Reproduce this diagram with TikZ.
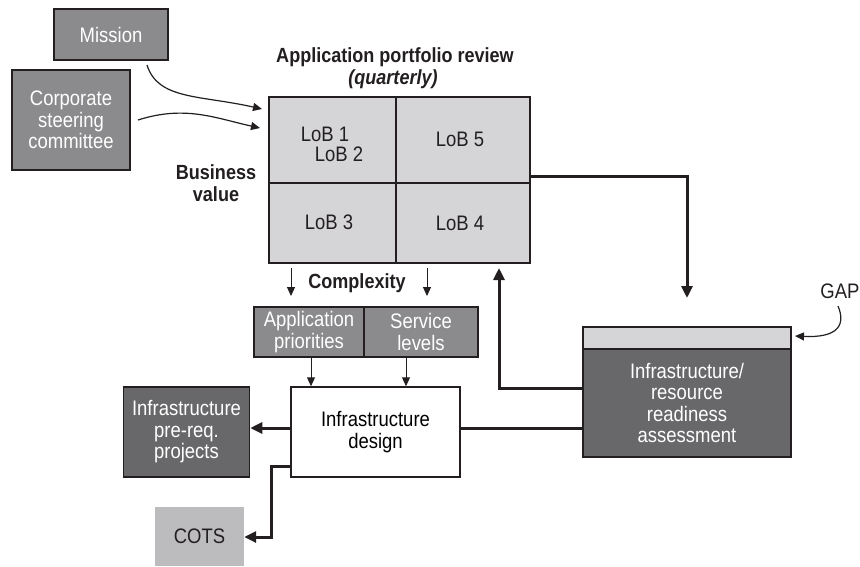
\documentclass[tikz,border=0pt]{standalone}
\usepackage{fontspec}
\setmainfont{Liberation Sans}[FakeStretch=0.88]
\usetikzlibrary{arrows.meta}
\definecolor{midgray}{HTML}{8B8B8D}
\definecolor{darkgray}{HTML}{68686A}
\definecolor{lightgray}{HTML}{D5D5D7}
\definecolor{cotsgray}{HTML}{BCBCBE}
\definecolor{ink}{HTML}{231F20}
\tikzset{
  box/.style={draw=ink, line width=1.5pt, inner sep=0pt, align=center},
  graybox/.style={box, fill=midgray, text=white},
  darkbox/.style={box, fill=darkgray, text=white},
  lbl/.style={inner sep=0pt, align=center, text=ink},
  boldlbl/.style={lbl, font=\fontsize{20.5}{21.5}\selectfont\bfseries},
  thin/.style={draw=ink, line width=1pt, -{Triangle[length=9pt,width=8pt]}},
  heavy/.style={draw=ink, line width=3pt},
  heavyarrow/.style={heavy, -{Triangle[length=12pt,width=11pt]}},
}
\begin{document}
\begin{tikzpicture}[x=1pt, y=-1pt, font=\fontsize{21}{21.5}\selectfont]
\useasboundingbox (0,0) rectangle (860,566);

% input boxes
\node[graybox, minimum width=114pt, minimum height=51pt] (mission) at (111,34.5) {Mission};
\node[graybox, minimum width=118pt, minimum height=100pt] (corp) at (71,120) {Corporate\\steering\\committee};

% portfolio grid
\node[boldlbl] (title) at (395,57) {Application portfolio review};
\node[boldlbl, font=\fontsize{20.5}{21.5}\selectfont\bfseries\itshape] (quarterly) at (393,79) {(quarterly)};
\node[box, fill=lightgray, minimum width=261pt, minimum height=166pt] (grid) at (399.5,180) {};
\draw[ink, line width=1.5pt] (396,97) -- (396,263);
\draw[ink, line width=1.5pt] (269,183) -- (530,183);
\node[lbl] (lob1) at (325,134) {LoB 1};
\node[lbl] (lob2) at (339,154) {LoB 2};
\node[lbl] (lob5) at (460,139) {LoB 5};
\node[lbl] (lob3) at (329,222) {LoB 3};
\node[lbl] (lob4) at (460,223) {LoB 4};
\node[boldlbl] (bvalue) at (216,183) {Business\\value};
\node[boldlbl] (complexity) at (357,283) {Complexity};

% priorities and service levels
\node[graybox, minimum width=110pt, minimum height=50pt] (apppri) at (309,332) {Application\\priorities};
\node[graybox, minimum width=114pt, minimum height=50pt] (service) at (421,332) {Service\\levels};

% design and outputs
\node[box, fill=white, minimum width=169pt, minimum height=90pt] (design) at (375.5,432) {Infrastructure\\design};
\node[darkbox, minimum width=126pt, minimum height=90pt] (prereq) at (186.5,432) {Infrastructure\\pre-req.\\projects};
\node[lbl, fill=cotsgray, minimum width=89pt, minimum height=59pt] (cots) at (199.5,536.5) {COTS};

% readiness assessment
\node[box, fill=lightgray, minimum width=208pt, minimum height=22pt] (band) at (687,338) {};
\node[darkbox, minimum width=208pt, minimum height=108pt] (ready) at (687,403) {Infrastructure/\\resource\\readiness\\assessment};
\node[lbl] (gap) at (840,291) {GAP};

% curved input arrows
\coordinate (m0) at (147,65);
\coordinate (m1) at (262,109);
\coordinate (c0) at (138,120);
\coordinate (c1) at (260,128);
\draw[thin, line width=1.2pt] (m0) .. controls (158,100) and (200,95) .. (m1);
\draw[thin, line width=1.2pt] (c0) .. controls (185,105) and (215,118) .. (c1);

% complexity arrows
\draw[thin] (291,268) -- (291,296);
\draw[thin] (427,268) -- (427,296);
\draw[thin] (apppri.south -| 311,0) -- (design.north -| 311,0);
\draw[thin] (service.south -| 406,0) -- (design.north -| 406,0);

% heavy connectors
\coordinate (gr) at (530,176);
\coordinate (gd) at (687,298);
\draw[heavyarrow] (gr) -- (687,176) -- (gd);
\coordinate (rl1) at (583,388);
\coordinate (gu) at (499,268);
\draw[heavyarrow] (rl1) -- (499,388) -- (gu);
\draw[heavy] (design.east |- 0,428) -- (ready.west |- 0,428);
\draw[heavyarrow] (design.west |- 0,428) -- (prereq.east |- 0,428);
\draw[heavyarrow] (design.west |- 0,466) -- (271,466) -- (271,537) -- (cots.east |- 0,537);

% gap pointer
\coordinate (g0) at (838,306);
\coordinate (g1) at (795,336);
\draw[thin, line width=1.2pt] (g0) .. controls (846,325) and (838,338) .. (g1);
\end{tikzpicture}
\end{document}
